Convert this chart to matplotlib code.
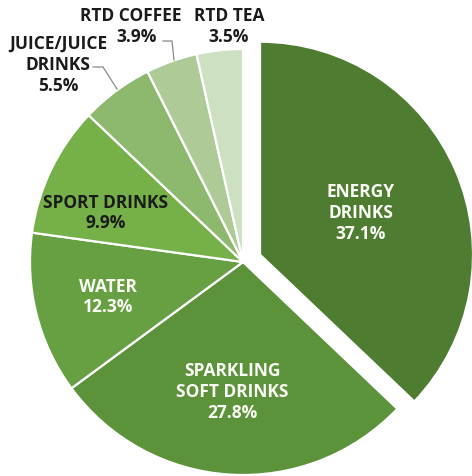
import matplotlib
matplotlib.use('Agg')
import matplotlib.pyplot as plt

# ─── Data ───
categories = ['ENERGY\nDRINKS', 'SPARKLING\nSOFT DRINKS', 'WATER', 'SPORT DRINKS',
              'JUICE/JUICE\nDRINKS', 'RTD COFFEE', 'RTD TEA']
shares = [37.1, 27.8, 12.3, 9.9, 5.5, 3.9, 3.5]
colors = ['#4e7c30', '#5c923a', '#67a042', '#75b048', '#8cb96e', '#adca97', '#cde0c1']
explode = [0.087, 0, 0, 0, 0, 0, 0]

plt.rcParams['font.family'] = ['Open Sans', 'DejaVu Sans']

W, H = 472, 477
CX, CY, R = 243, 263, 213   # pie centre / radius in pixels


def px(x, y):
    # pixel position (from top-left) -> data coords with unit radius
    return (x - CX) / R, (CY - y) / R


fig = plt.figure(figsize=(W / 100, H / 100), dpi=100)
fig.patch.set_facecolor('white')
ax = fig.add_axes([0, 0, 1, 1])

ax.pie(shares, colors=colors, explode=explode, startangle=90, counterclock=False,
       radius=1, wedgeprops=dict(edgecolor='white', linewidth=1.6))
ax.set_aspect('auto')
ax.set_xlim(-CX / R, (W - CX) / R)
ax.set_ylim(-(H - CY) / R, CY / R)
ax.axis('off')

WHITE = '#fbfbf6'
DARK = '#1b1b1b'
FS = 12.5
LS = 1.2

# inside labels
inside = [
    (0, 361, 213, WHITE),
    (1, 232, 392, WHITE),
    (2, 108, 297, WHITE),
    (3, 106, 213, DARK),
]
for i, x, y, c in inside:
    ax.text(*px(x, y), f'{categories[i]}\n{shares[i]}%', ha='center', va='center',
            fontsize=FS, fontweight='bold', color=c, linespacing=LS)

# outside labels
ax.text(*px(58, 65), f'{categories[4]}\n{shares[4]}%', ha='center', va='center',
        fontsize=FS, fontweight='bold', color=DARK, linespacing=LS)
ax.text(*px(131, 16), categories[5], ha='center', va='center',
        fontsize=FS, fontweight='bold', color=DARK)
ax.text(*px(137, 37), f'{shares[5]}%', ha='center', va='center',
        fontsize=FS, fontweight='bold', color=DARK)
ax.text(*px(229, 16), categories[6], ha='center', va='center',
        fontsize=FS, fontweight='bold', color=DARK)
ax.text(*px(229, 37), f'{shares[6]}%', ha='center', va='center',
        fontsize=FS, fontweight='bold', color=DARK)

# leader lines
LC = '#8a8a8a'
for pts in [[(93, 68), (103, 68), (117, 90)],
            [(163, 42), (172, 42), (174, 61)]]:
    xs, ys = zip(*[px(*p) for p in pts])
    ax.plot(xs, ys, color=LC, linewidth=0.9)

fig.savefig('out.png', dpi=100, facecolor='white')
